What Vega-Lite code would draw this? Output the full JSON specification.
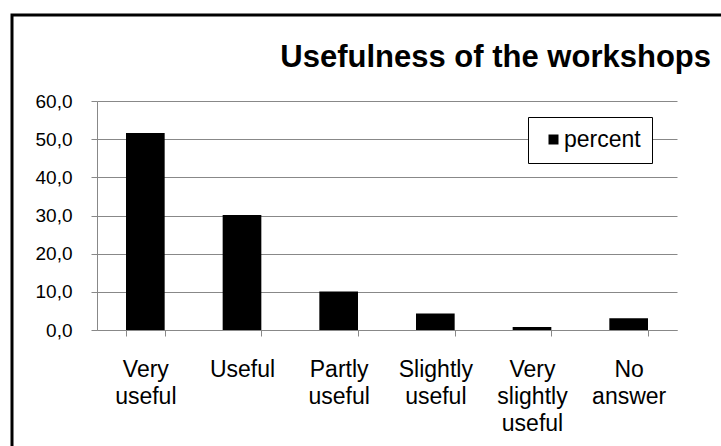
{
  "$schema": "https://vega.github.io/schema/vega-lite/v6.json",
  "autosize": {"type": "none"},
  "padding": {"left": 12, "top": 15, "right": -7, "bottom": -9},
  "width": 716,
  "height": 440,
  "background": "white",
  "config": {
    "view": {"stroke": "black", "strokeWidth": 3, "fill": "white"}
  },
  "title": {
    "text": "Usefulness of the workshops",
    "anchor": "end",
    "frame": "group",
    "dx": -17,
    "offset": -83,
    "baseline": "alphabetic",
    "font": "Liberation Sans",
    "fontSize": 31,
    "fontWeight": "bold",
    "color": "black"
  },
  "data": {
    "values": [
      {"answer": "Very useful", "percent": 51.6, "series": "percent"},
      {"answer": "Useful", "percent": 30.1, "series": "percent"},
      {"answer": "Partly useful", "percent": 10.1, "series": "percent"},
      {"answer": "Slightly useful", "percent": 4.3, "series": "percent"},
      {"answer": "Very slightly useful", "percent": 0.8, "series": "percent"},
      {"answer": "No answer", "percent": 3.1, "series": "percent"}
    ]
  },
  "mark": {"type": "bar"},
  "encoding": {
    "x": {
      "field": "answer",
      "type": "nominal",
      "sort": null,
      "scale": {"range": [85, 665], "paddingInner": 0.6, "paddingOuter": 0.3},
      "axis": {
        "title": null,
        "orient": "bottom",
        "offset": -125,
        "tickBand": "extent",
        "grid": false,
        "domainColor": "#888888",
        "domainWidth": 1,
        "tickColor": "#888888",
        "tickSize": 6,
        "labelAngle": 0,
        "labelAlign": "center",
        "labelBaseline": "top",
        "labelPadding": 22,
        "labelFont": "Liberation Sans",
        "labelFontSize": 23,
        "labelLineHeight": 27,
        "labelColor": "black",
        "labelOverlap": false,
        "labelExpr": "split(datum.label, ' ')"
      }
    },
    "y": {
      "field": "percent",
      "type": "quantitative",
      "scale": {"domain": [0, 60], "range": [315, 86], "nice": false},
      "axis": {
        "title": null,
        "values": [0, 10, 20, 30, 40, 50, 60],
        "offset": -85,
        "grid": true,
        "gridColor": "#888888",
        "gridWidth": 1,
        "domainColor": "#888888",
        "tickColor": "#888888",
        "tickSize": 6,
        "labelPadding": 19,
        "labelFont": "Liberation Sans",
        "labelFontSize": 19,
        "labelColor": "black",
        "labelExpr": "replace(format(datum.value, '.1f'), '.', ',')"
      }
    },
    "color": {
      "field": "series",
      "type": "nominal",
      "scale": {"range": ["black"]},
      "legend": {
        "title": null,
        "orient": "none",
        "legendX": 516,
        "legendY": 102,
        "direction": "vertical",
        "strokeColor": "black",
        "fillColor": "white",
        "padding": 11,
        "symbolType": "square",
        "symbolSize": 100,
        "symbolStrokeWidth": 0,
        "symbolOffset": 3,
        "labelFont": "Liberation Sans",
        "labelFontSize": 23,
        "labelColor": "black",
        "labelOffset": -1
      }
    }
  }
}
